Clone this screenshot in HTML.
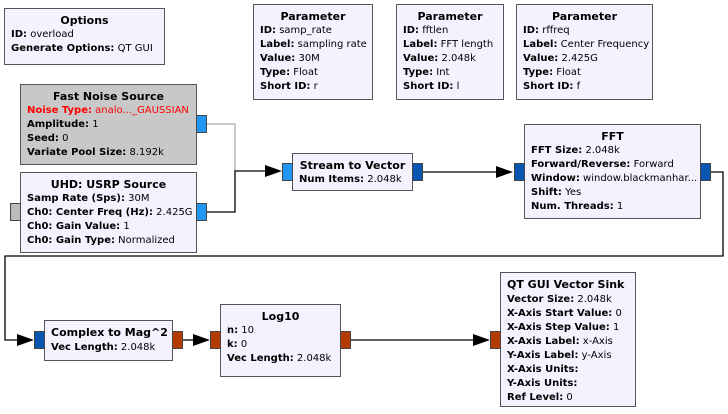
<!DOCTYPE html>
<html><head><meta charset="utf-8"><style>
body{margin:0;width:728px;height:414px;background:#fff;position:relative;overflow:hidden;font-family:"DejaVu Sans","Liberation Sans",sans-serif;font-size:10px;color:#000}
.b{position:absolute;box-sizing:border-box;border:1px solid #555;background:#f5f2ff;padding:5px 0 0 6px;line-height:14px;white-space:nowrap}
.b .t{font-weight:bold;text-align:center;margin-left:-6px;font-size:11px}
.b b{font-weight:bold}
.p{position:absolute;box-sizing:border-box;border:1px solid #444}
.lb{background:#2196f3}.db{background:#0a55b0}.or{background:#b33a00}.gr{background:#bbb}
svg{position:absolute;left:0;top:0}
</style></head><body>
<svg width="728" height="414">
<g fill="none" stroke="#000" stroke-width="1.3">
<polyline points="206,124 235,124 235,171" stroke="#aaa"/>
<polyline points="206,212 235,212 235,171 270,171"/>
<line x1="422" y1="172" x2="500" y2="172"/>
<polyline points="710,172 723,172 723,256 5,256 5,340 22,340"/>
<line x1="182" y1="340" x2="198" y2="340"/>
<line x1="350" y1="340" x2="478" y2="340"/>
</g>
<g fill="#000">
<polygon points="265,165 282,171 265,177"/>
<polygon points="496,166 513,172 496,178"/>
<polygon points="17,334 34,340 17,346"/>
<polygon points="193,334 210,340 193,346"/>
<polygon points="473,334 490,340 473,346"/>
</g>
</svg>

<div class="b" style="left:4px;top:8px;width:161px;height:57px"><div class="t">Options</div><div><b>ID:</b> overload</div><div><b>Generate Options:</b> QT GUI</div></div>

<div class="b" style="left:253px;top:4px;width:120px;height:96px"><div class="t">Parameter</div><div><b>ID:</b> samp_rate</div><div><b>Label:</b> sampling rate</div><div><b>Value:</b> 30M</div><div><b>Type:</b> Float</div><div><b>Short ID:</b> r</div></div>

<div class="b" style="left:396px;top:4px;width:108px;height:96px"><div class="t">Parameter</div><div><b>ID:</b> fftlen</div><div><b>Label:</b> FFT length</div><div><b>Value:</b> 2.048k</div><div><b>Type:</b> Int</div><div><b>Short ID:</b> l</div></div>

<div class="b" style="left:516px;top:4px;width:137px;height:96px"><div class="t">Parameter</div><div><b>ID:</b> rffreq</div><div><b>Label:</b> Center Frequency</div><div><b>Value:</b> 2.425G</div><div><b>Type:</b> Float</div><div><b>Short ID:</b> f</div></div>

<div class="b" style="left:20px;top:84px;width:177px;height:81px;background:#c8c8c8"><div class="t">Fast Noise Source</div><div style="color:#f00"><b>Noise Type:</b> analo..._GAUSSIAN</div><div><b>Amplitude:</b> 1</div><div><b>Seed:</b> 0</div><div><b>Variate Pool Size:</b> 8.192k</div></div>
<div class="p lb" style="left:196px;top:115px;width:11px;height:18px"></div>

<div class="b" style="left:20px;top:172px;width:177px;height:81px"><div class="t">UHD: USRP Source</div><div><b>Samp Rate (Sps):</b> 30M</div><div><b>Ch0: Center Freq (Hz):</b> 2.425G</div><div><b>Ch0: Gain Value:</b> 1</div><div><b>Ch0: Gain Type:</b> Normalized</div></div>
<div class="p gr" style="left:10px;top:203px;width:11px;height:18px"></div>
<div class="p lb" style="left:196px;top:203px;width:11px;height:18px"></div>

<div class="b" style="left:292px;top:153px;width:121px;height:38px"><div class="t">Stream to Vector</div><div><b>Num Items:</b> 2.048k</div></div>
<div class="p lb" style="left:282px;top:163px;width:11px;height:18px"></div>
<div class="p db" style="left:412px;top:163px;width:11px;height:18px"></div>

<div class="b" style="left:524px;top:124px;width:177px;height:95px"><div class="t">FFT</div><div><b>FFT Size:</b> 2.048k</div><div><b>Forward/Reverse:</b> Forward</div><div><b>Window:</b> window.blackmanhar...</div><div><b>Shift:</b> Yes</div><div><b>Num. Threads:</b> 1</div></div>
<div class="p db" style="left:514px;top:163px;width:11px;height:18px"></div>
<div class="p db" style="left:700px;top:163px;width:11px;height:18px"></div>

<div class="b" style="left:44px;top:320px;width:129px;height:41px"><div><b style="font-size:11px">Complex to Mag^2</b></div><div><b>Vec Length:</b> 2.048k</div></div>
<div class="p db" style="left:34px;top:331px;width:11px;height:18px"></div>
<div class="p or" style="left:172px;top:331px;width:11px;height:18px"></div>

<div class="b" style="left:220px;top:304px;width:121px;height:73px"><div class="t">Log10</div><div><b>n:</b> 10</div><div><b>k:</b> 0</div><div><b>Vec Length:</b> 2.048k</div></div>
<div class="p or" style="left:210px;top:331px;width:11px;height:18px"></div>
<div class="p or" style="left:340px;top:331px;width:11px;height:18px"></div>

<div class="b" style="left:500px;top:272px;width:136px;height:135px"><div><b style="font-size:11px">QT GUI Vector Sink</b></div><div><b>Vector Size:</b> 2.048k</div><div><b>X-Axis Start Value:</b> 0</div><div><b>X-Axis Step Value:</b> 1</div><div><b>X-Axis Label:</b> x-Axis</div><div><b>Y-Axis Label:</b> y-Axis</div><div><b>X-Axis Units:</b></div><div><b>Y-Axis Units:</b></div><div><b>Ref Level:</b> 0</div></div>
<div class="p or" style="left:490px;top:331px;width:11px;height:18px"></div>
</body></html>
